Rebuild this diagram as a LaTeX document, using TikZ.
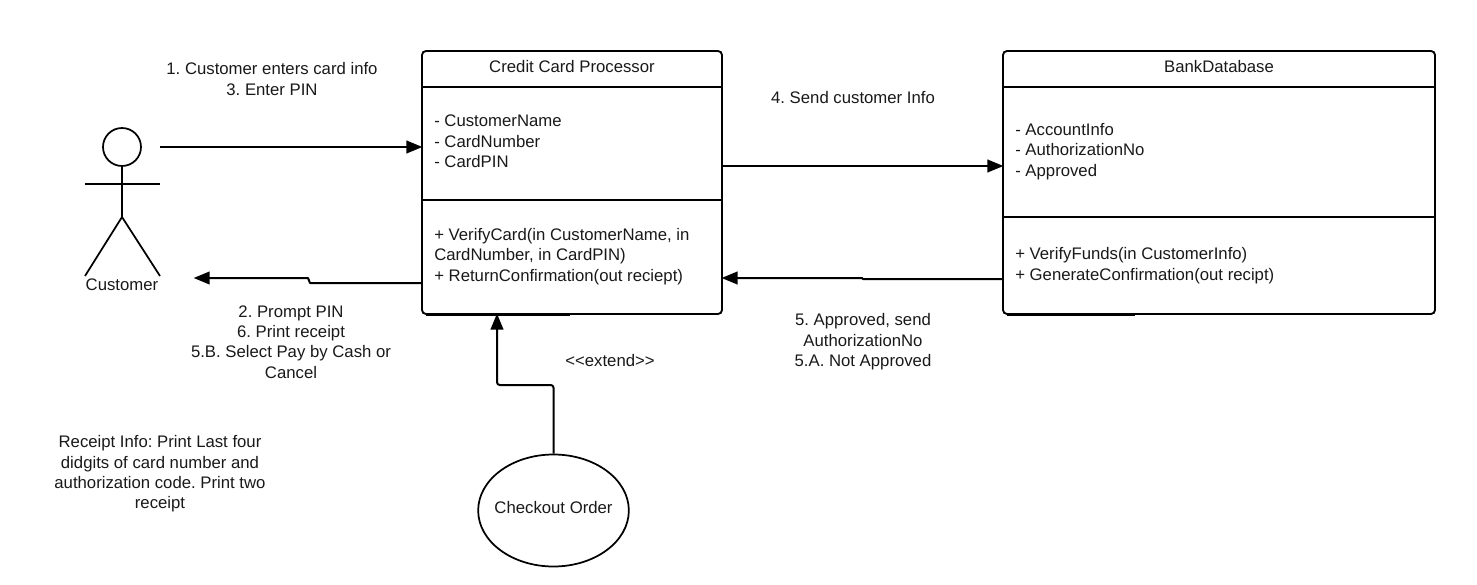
\documentclass[tikz,border=0pt]{standalone}
\usepackage{fontspec}
\setmainfont{Liberation Sans}
\usetikzlibrary{arrows.meta,shapes.geometric}
\frenchspacing

\begin{document}
\begin{tikzpicture}[x=0.75pt,y=-0.75pt,>={Triangle[length=12pt,width=9.5pt]}]
\tikzset{
    umlbox/.style={%
        draw=black, line width=1.4pt,
        rectangle,
        rounded corners=3pt,
        inner sep=0pt
        },
    lbl/.style={%
        font=\fontsize{12.55}{15.3}\selectfont,
        align=center,
        inner sep=0pt,
        text=black!90
        },
    members/.style={lbl, align=left, anchor=west},
    link/.style={->, line width=1.5pt, line join=round, shorten >=-1pt},
    limb/.style={line width=1.3pt},
}
\useasboundingbox (0,0) rectangle (1477,585);
%%%CLASSES
\node[umlbox, minimum width=225pt, minimum height=197.25pt] (proc) at (572,182.5) {};
\node[umlbox, minimum width=324pt, minimum height=197.25pt] (bank) at (1219,182.5) {};
\draw[limb] (proc.west |- 0,87) -- (proc.east |- 0,87);
\draw[limb] (proc.west |- 0,200) -- (proc.east |- 0,200);
\draw[limb] (bank.west |- 0,87) -- (bank.east |- 0,87);
\draw[limb] (bank.west |- 0,217) -- (bank.east |- 0,217);
\draw[line width=2.4pt] (426,314.5) -- (570,314.5);
\draw[line width=2.4pt] (1007,314.5) -- (1135,314.5);
%%%CLASS TEXT
\node[lbl] (proctitle) at (572,67) {Credit Card Processor};
\node[members] (procattr) at (434,141.5) {- CustomerName\\- CardNumber\\- CardPIN};
\node[members] (procops) at (434,256.5) {+ VerifyCard(in CustomerName, in\\CardNumber, in CardPIN)\\+ ReturnConfirmation(out reciept)};
\node[lbl] (banktitle) at (1219,67) {BankDatabase};
\node[members] (bankattr) at (1015,151.5) {- AccountInfo\\- AuthorizationNo\\- Approved};
\node[members] (bankops) at (1015,265.5) {+ VerifyFunds(in CustomerInfo)\\+ GenerateConfirmation(out recipt)};
%%%ACTOR
\node[draw=black, limb, circle, minimum size=28.5pt, inner sep=0pt] (head) at (122,147) {};
\coordinate (hip) at (122,217);
\coordinate (armL) at (85,184);
\coordinate (armR) at (160,184);
\coordinate (footL) at (85,276);
\coordinate (footR) at (160,276);
\draw[limb] (head.south) -- (hip);
\draw[limb] (armL) -- (armR);
\draw[limb] (footL) -- (hip) -- (footR);
\node[lbl] (customer) at (122,285) {Customer};
%%%USE CASE
\node[draw=black, limb, ellipse, minimum width=113pt, minimum height=84pt, inner sep=0pt,
    label={[lbl, yshift=2pt]center:Checkout Order}] (checkout) at (553.5,510.5) {};
%%%MESSAGES
\coordinate (actorout) at (160,147);
\coordinate (actorin) at (195,278);
\draw[link] (actorout) -- (proc.west |- actorout);
\draw[link] (proc.east |- 0,166) -- (bank.west |- 0,166);
\draw[link] (bank.west |- 0,279) -- (863,279) -- (862,278) -- (proc.east |- 0,278);
\draw[link] (proc.west |- 0,283) -- (310,283) -- (308,278) -- (actorin);
\draw[link, rounded corners=2pt] (checkout.north) -- (553.5,385) -- (497,385) -- (proc.south -| 497,0);
%%%LABELS
\node[lbl] (msgA) at (272,79) {1. Customer enters card info\\3. Enter PIN};
\node[lbl] (msgB) at (853,98) {4. Send customer Info};
\node[lbl] (msgC) at (291,342) {2. Prompt PIN\\6. Print receipt\\5.B. Select Pay by Cash or\\Cancel};
\node[lbl] (msgD) at (863,342) {5. Approved, send\\AuthorizationNo\\5.A. Not Approved};
\node[lbl] (ext) at (610,361) {<{}<extend>{}>};
\node[lbl] (note) at (160,474) {Receipt Info: Print Last four\\didgits of card number and\\authorization code. Print two\\receipt};
\end{tikzpicture}
\end{document}
